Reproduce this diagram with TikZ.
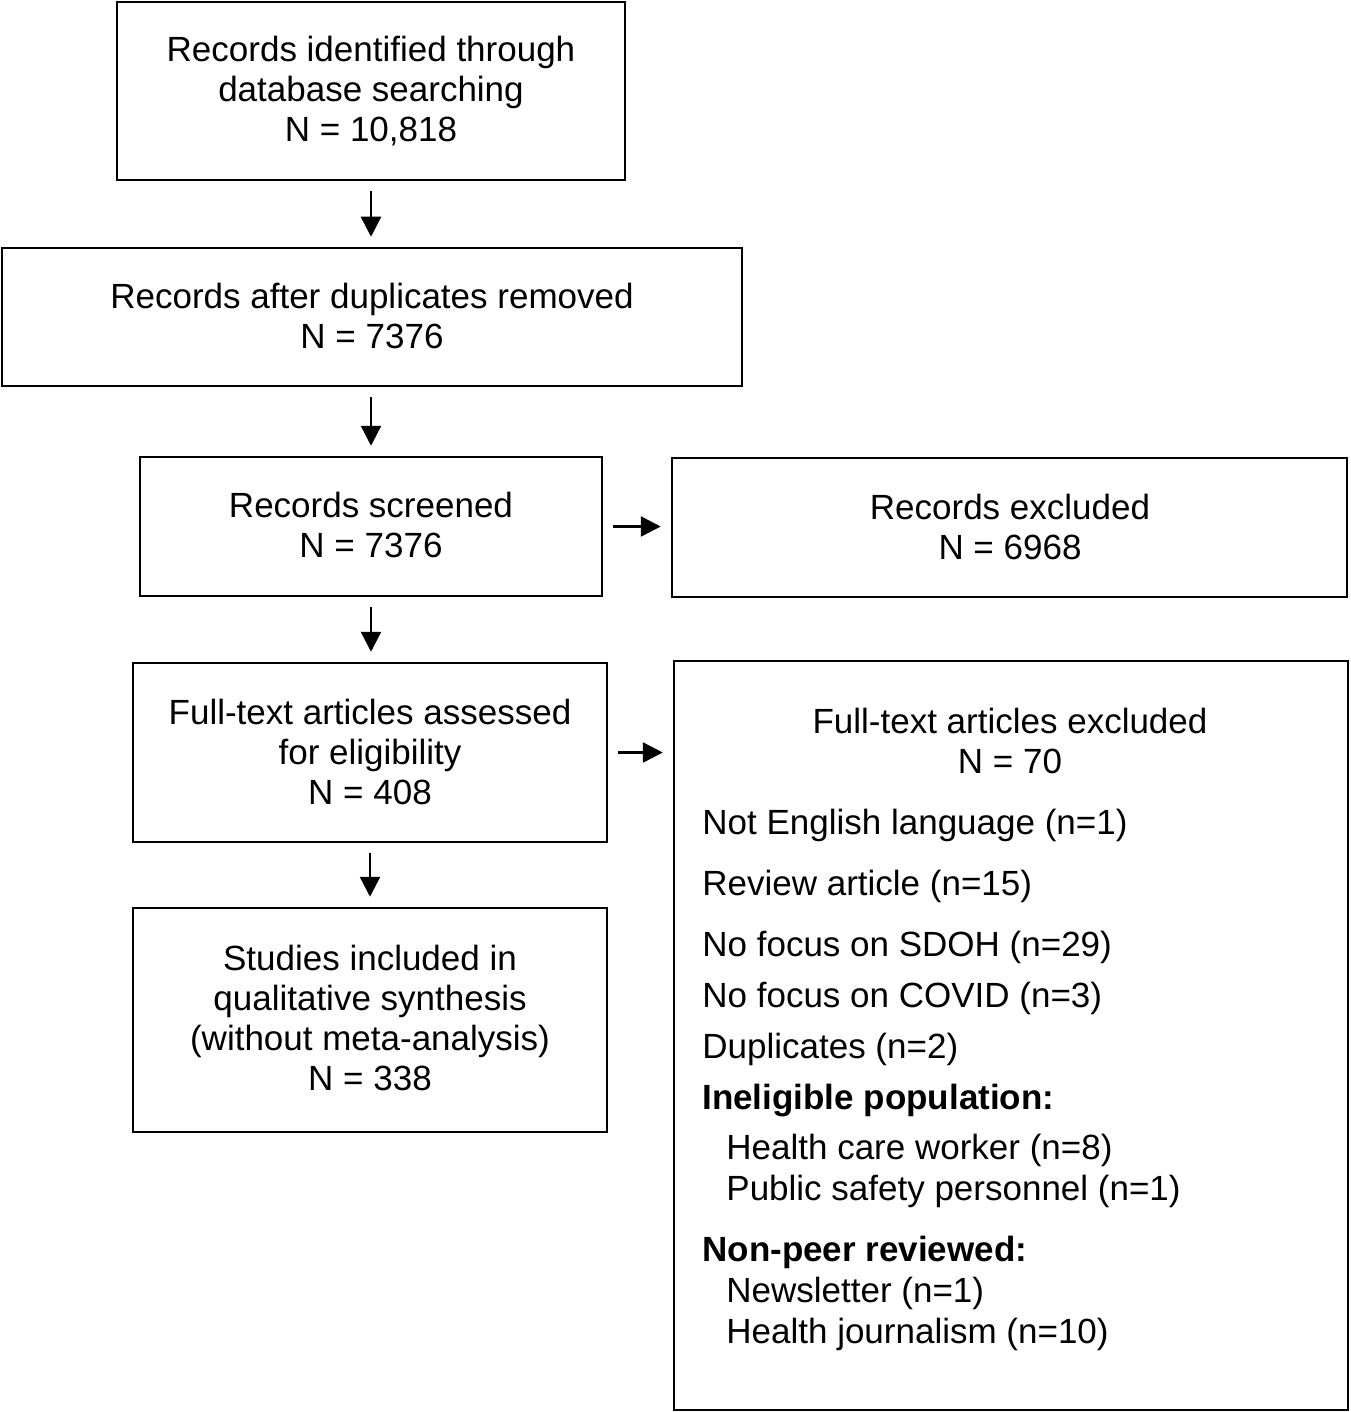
\documentclass[tikz,border=0pt]{standalone}
\usepackage{fontspec}
\setmainfont{Liberation Sans}
\usetikzlibrary{arrows.meta}
\begin{document}
\begin{tikzpicture}[x=0.5pt,y=-0.5pt,
  box/.style={draw,line width=1.25pt,inner sep=0pt},
  txt/.style={anchor=base,inner sep=0pt,font=\fontsize{17.5}{20}\selectfont},
  ltxt/.style={anchor=base west,inner sep=0pt,font=\fontsize{17.5}{20}\selectfont},
  btxt/.style={anchor=base west,inner sep=0pt,font=\fontsize{17.5}{20}\selectfont\bfseries},
  arr/.style={line width=1.25pt,-{Triangle[length=10pt,width=10pt]},shorten <=5pt,shorten >=5pt}]
\useasboundingbox (0,0) rectangle (1350,1412);
% boxes
\node[box,minimum width=254pt,minimum height=89pt] (b1) at (371,91) {};
\node[box,minimum width=370pt,minimum height=69pt] (b2) at (372,317) {};
\node[box,minimum width=231pt,minimum height=69.5pt] (b3) at (371,526.5) {};
\node[box,minimum width=337.5pt,minimum height=69.5pt] (b4) at (1009.5,527.5) {};
\node[box,minimum width=237pt,minimum height=89.5pt] (b5) at (370,752.5) {};
\node[box,minimum width=237pt,minimum height=112pt] (b6) at (370,1020) {};
\node[box,minimum width=337pt,minimum height=374.5pt] (b7) at (1011,1035.5) {};
% texts
\node[txt] (t1a) at (371,62) {Records identified through};
\node[txt] (t1b) at (371,102) {database searching};
\node[txt] (t1c) at (371,142) {N = 10,818};
\node[txt] (t2a) at (372,308) {Records after duplicates removed};
\node[txt] (t2b) at (372,348) {N = 7376};
\node[txt] (t3a) at (371,517) {Records screened};
\node[txt] (t3b) at (371,557) {N = 7376};
\node[txt] (t4a) at (1010,519) {Records excluded};
\node[txt] (t4b) at (1010,559) {N = 6968};
\node[txt] (t5a) at (370,724) {Full-text articles assessed};
\node[txt] (t5b) at (370,764) {for eligibility};
\node[txt] (t5c) at (370,804) {N = 408};
\node[txt] (t6a) at (370,970) {Studies included in};
\node[txt] (t6b) at (370,1010) {qualitative synthesis};
\node[txt] (t6c) at (370,1050) {(without meta-analysis)};
\node[txt] (t6d) at (370,1090) {N = 338};
\node[txt] (t7a) at (1010,733) {Full-text articles excluded};
\node[txt] (t7b) at (1010,773) {N = 70};
\node[ltxt] (t7c) at (702,834) {Not English language (n=1)};
\node[ltxt] (t7d) at (702,895) {Review article (n=15)};
\node[ltxt] (t7e) at (702,956) {No focus on SDOH (n=29)};
\node[ltxt] (t7f) at (702,1007) {No focus on COVID (n=3)};
\node[ltxt] (t7g) at (702,1058) {Duplicates (n=2)};
\node[btxt] (t7h) at (702,1109) {Ineligible population:};
\node[ltxt] (t7i) at (726,1159) {Health care worker (n=8)};
\node[ltxt] (t7j) at (726,1200) {Public safety personnel (n=1)};
\node[btxt] (t7k) at (702,1261) {Non-peer reviewed:};
\node[ltxt] (t7l) at (726,1302) {Newsletter (n=1)};
\node[ltxt] (t7m) at (726,1343) {Health journalism (n=10)};
% arrows
\draw[arr] (b1.south) -- (b1.south |- b2.north);
\draw[arr] (b2.south -| b3.north) -- (b3.north);
\draw[arr] (b3.south) -- (b3.south |- b5.north);
\draw[arr] (b5.south) -- (b5.south |- b6.north);
\draw[arr] (b3.east) -- (b3.east -| b4.west);
\draw[arr] (b5.east) -- (b5.east -| b7.west);
\end{tikzpicture}
\end{document}
